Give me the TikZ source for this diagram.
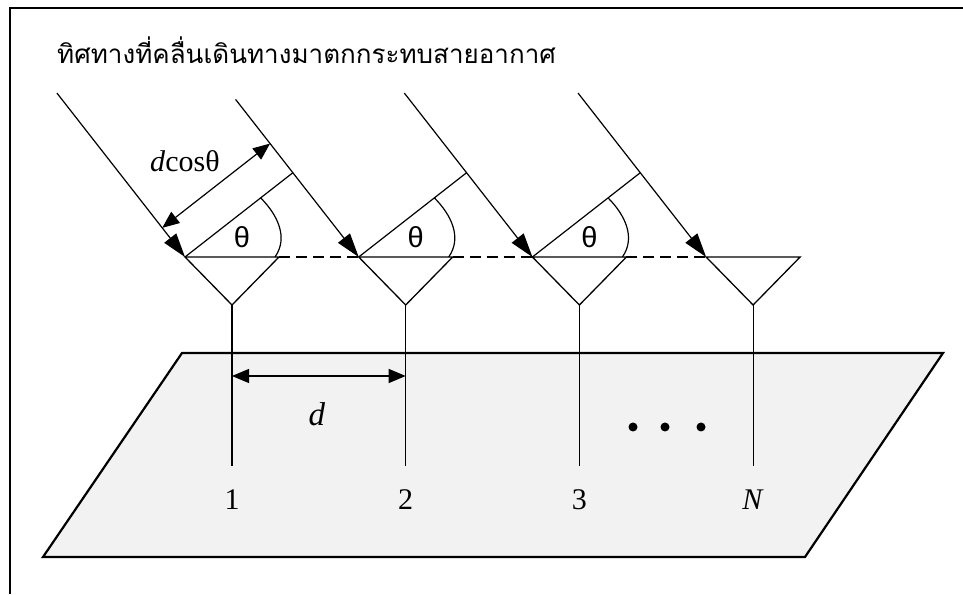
\documentclass[tikz,border=0pt]{standalone}
\usepackage{fontspec}
\setmainfont{Liberation Serif}
\newfontfamily\thaifont[Script=Thai]{Loma}
\newfontfamily\anglefont{Liberation Sans}
\usetikzlibrary{arrows.meta,calc}

\definecolor{planegray}{HTML}{F2F2F2}

\tikzset{
  ray/.style={line width=1.2pt,-{Triangle[length=24pt,width=15pt]}},
  dimline/.style={line width=1.2pt,{Triangle[length=17pt,width=14pt]}-{Triangle[length=17pt,width=14pt]}},
  antenna/.style={line width=1.3pt,line join=miter},
  feed/.style={line width=1.2pt},
  baseline/.style={line width=1.4pt,dash pattern=on 11pt off 6pt},
  numlabel/.style={anchor=base,inner sep=0pt,font=\fontsize{30}{32}\selectfont},
  anglelabel/.style={inner sep=0pt,font=\anglefont\fontsize{29}{30}\selectfont},
  dotnode/.style={circle,fill=black,inner sep=0pt,minimum size=9pt}
}

\begin{document}
\begin{tikzpicture}[x=1pt,y=1pt]
\useasboundingbox (0,0) rectangle (963,594);
% frame
\draw[line width=1.8pt] (10,0) -- (10,586) -- (963,586);
% ground plane
\draw[line width=2.2pt,line join=miter,fill=planegray] (182,241) -- (943,241) -- (805,37) -- (43,37) -- cycle;
% caption
\node[anchor=base west,inner sep=0pt,font=\thaifont\fontsize{26}{30}\selectfont] (caption) at (57,530) {ทิศทางที่คลื่นเดินทางมาตกกระทบสายอากาศ};
% antenna elements
\foreach \i/\lab in {1/1,2/2,3/3,4/\textit{N}}{
  \coordinate (s\i) at ({232+173.7*(\i-1)},289);
  \coordinate (a\i) at ($(s\i)+(-47,48)$);
  \coordinate (b\i) at ($(s\i)+(47,48)$);
  \coordinate (g\i) at ($(s\i)+(0,-161)$);
  \draw[antenna] (a\i) -- (b\i) -- (s\i) -- cycle;
  \draw[feed] (s\i) -- (g\i);
  \node[numlabel] (n\i) at ($(g\i)+(0,-44)$) {\lab};
}
% incoming rays
\foreach \i/\len in {1/208,2/200,3/208,4/208}{
  \coordinate (r\i) at ($(a\i)+(128:\len)$);
  \draw[ray] (r\i) -- (a\i);
}
% wavefronts and angles
\foreach \i in {1,2,3}{
  \pgfmathtruncatemacro\j{\i+1}
  \coordinate (f\i) at ($(r\j)!(a\i)!(a\j)$);
  \coordinate (c\i) at ($(a\i)+(38:96)$);
  \coordinate (e\i) at ($(a\i)+(90,0)$);
  \draw[feed] (a\i) -- (f\i);
  \draw[feed] (c\i) to[out=-45,in=55] (e\i);
  \node[anglelabel] (t\i) at ($(a\i)+(57,20)$) {θ};
}
\draw[baseline] (b1) -- (a2) (b2) -- (a3) (b3) -- (a4);
% path difference
\coordinate (p1) at ($(a1)+(128:37)$);
\coordinate (q1) at ($(f1)+(128:37)$);
\draw[dimline] (p1) -- (q1);
\node[anchor=base west,inner sep=0pt,font=\fontsize{30}{32}\selectfont] (dcos) at (150,422) {\textit{d}cosθ};
% spacing
\coordinate (d1) at ($(g1)+(0,90)$);
\coordinate (d2) at ($(g2)+(0,90)$);
\draw[dimline] (d1) -- (d2);
\node[anchor=base,inner sep=0pt,font=\fontsize{33}{34}\selectfont] (dlab) at (317,168) {\textit{d}};
% more elements
\node[dotnode] (dot1) at (633,167) {};
\node[dotnode] (dot2) at (665,167) {};
\node[dotnode] (dot3) at (701,167) {};
\end{tikzpicture}
\end{document}
